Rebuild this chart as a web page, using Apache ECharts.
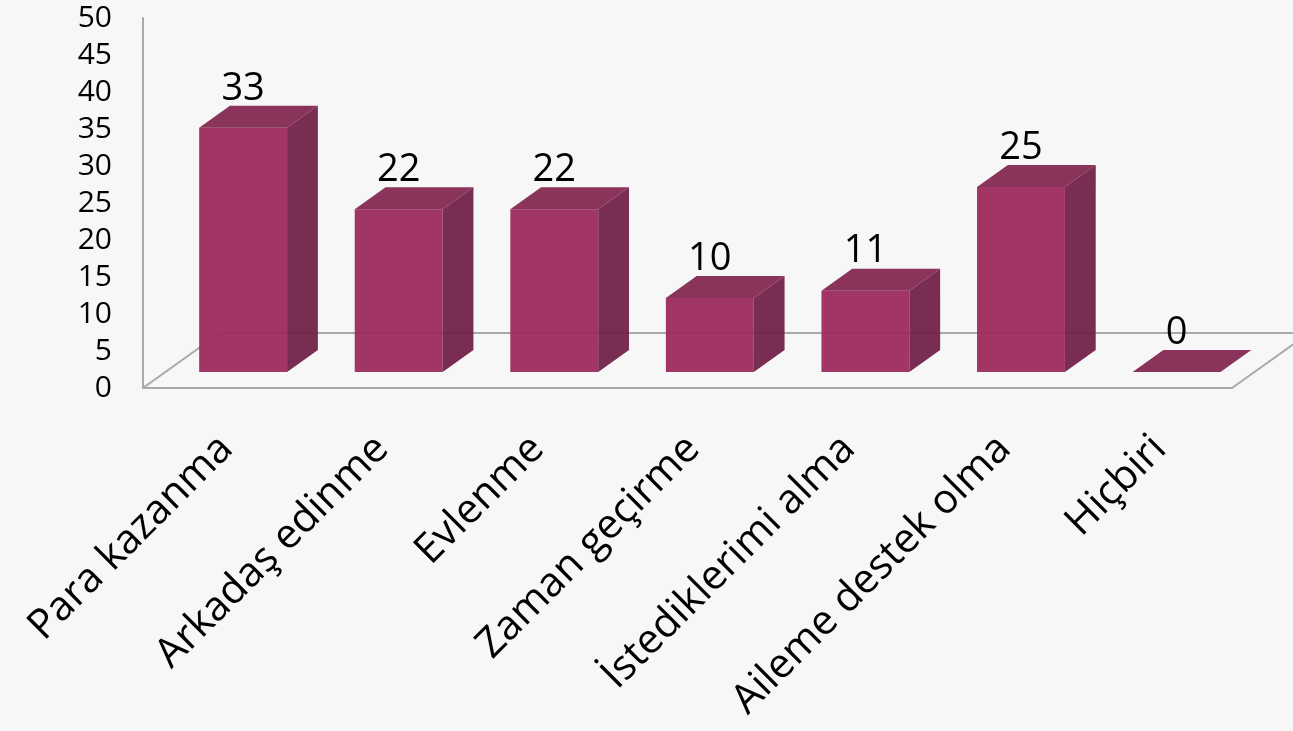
<!DOCTYPE html>
<html>
<head>
<meta charset="utf-8">
<script src="https://cdn.jsdelivr.net/npm/echarts@6/dist/echarts.min.js"></script>
<style>
  html, body { margin: 0; padding: 0; background: #f7f7f7; }
  #chart { width: 1293px; height: 731px; }
</style>
</head>
<body>
<div id="chart"></div>
<script>
const categories = ['Para kazanma', 'Arkadaş edinme', 'Evlenme', 'Zaman geçirme', 'İstediklerimi alma', 'Aileme destek olma', 'Hiçbiri'];
const values = [33, 22, 22, 10, 11, 25, 0];

// depth of the floor (px) and where the bars sit inside it
const DEPTH_X = 77, DEPTH_Y = -55;
const BAR_FRONT = 0.29, BAR_BACK = 0.69;
const FONT = '"Open Sans", "Noto Sans", sans-serif';

const chart = echarts.init(document.getElementById('chart'), null, { renderer: 'canvas' });

function renderFloor(params, api) {
  const bw = api.size([1, 0])[0];
  const left = api.coord([0, 0]);
  const right = api.coord([categories.length - 1, 0]);
  const x0 = left[0] - bw / 2, x1 = right[0] + bw / 2, y = left[1];
  const st = { stroke: '#a9a9a9', lineWidth: 2, fill: null };
  return {
    type: 'group',
    children: [
      { type: 'polyline', shape: { points: [[x0, y], [x0 + DEPTH_X, y + DEPTH_Y], [x1 + DEPTH_X, y + DEPTH_Y], [x1, y]] }, style: st }
    ]
  };
}

function renderBar(params, api) {
  const i = api.value(0);
  const v = api.value(1);
  const top = api.coord([i, v]);
  const base = api.coord([i, 0]);
  const w = api.size([1, 0])[0] * 0.565;
  const fx = BAR_FRONT * DEPTH_X, fy = BAR_FRONT * DEPTH_Y;
  const dx = (BAR_BACK - BAR_FRONT) * DEPTH_X, dy = (BAR_BACK - BAR_FRONT) * DEPTH_Y;
  const x0 = top[0] + fx - w / 2, x1 = x0 + w;
  const yt = top[1] + fy, yb = base[1] + fy;
  return {
    type: 'group',
    children: [
      { type: 'rect', shape: { x: x0, y: yt, width: w, height: yb - yt }, style: { fill: '#9c2b5e', opacity: 0.95 } },
      { type: 'polygon', shape: { points: [[x1, yt], [x1 + dx, yt + dy], [x1 + dx, yb + dy], [x1, yb]] }, style: { fill: '#72224a', opacity: 0.95 } },
      { type: 'polygon', shape: { points: [[x0, yt], [x1, yt], [x1 + dx, yt + dy], [x0 + dx, yt + dy]] }, style: { fill: '#842852', opacity: 0.95 } },
      { type: 'text', x: x0 + w / 2, y: yt + dy + 2, style: { text: String(v), fontSize: 38, fontFamily: FONT, fill: '#000', align: 'center', verticalAlign: 'bottom' } }
    ]
  };
}

const option = {
  backgroundColor: '#f7f7f7',
  animation: false,
  grid: { left: 143, right: 61, top: 18, bottom: 343 },
  xAxis: {
    type: 'category',
    data: categories,
    axisLine: { show: true, lineStyle: { color: '#a9a9a9', width: 2 } },
    axisTick: { show: false },
    axisLabel: { rotate: 45, fontSize: 41, fontFamily: FONT, color: '#000', margin: 60, padding: [0, -8, 0, 0], interval: 0 }
  },
  yAxis: {
    type: 'value',
    min: 0, max: 50, interval: 5,
    axisLine: { show: true, lineStyle: { color: '#a9a9a9', width: 2 } },
    axisTick: { show: false },
    splitLine: { show: false },
    axisLabel: { fontSize: 30, fontFamily: FONT, color: '#000', margin: 31 }
  },
  series: [
    { type: 'custom', renderItem: renderFloor, data: [[0, 0]], clip: false, z: 1 },
    { type: 'custom', renderItem: renderBar, data: values.map((v, i) => [i, v]), clip: false, z: 2 }
  ]
};
chart.setOption(option);
</script>
</body>
</html>
